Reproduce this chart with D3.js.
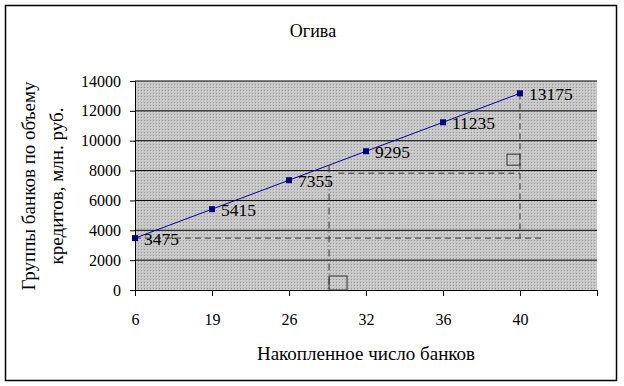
<!DOCTYPE html>
<html>
<head>
<meta charset="utf-8">
<script src="https://cdnjs.cloudflare.com/ajax/libs/d3/7.8.5/d3.min.js"></script>
<style>
  body { margin: 0; background: #fff; }
</style>
</head>
<body>
<svg id="chart" width="624" height="386"></svg>
<script>
/*** DATA ***/
var categories = ["6", "19", "26", "32", "36", "40", ""];
var values = [3475, 5415, 7355, 9295, 11235, 13175];
var y_ticks = [0, 2000, 4000, 6000, 8000, 10000, 12000, 14000];

// annotation (median construction), in data units: category index / value
var median_x = 2.52, median_y = 7826, median_top = 8340;
var base_end_x = 5.28;

var FONT = "Liberation Serif";

var svg = d3.select('#chart');

var margin = {top: 81, left: 135, right: 27, bottom: 96},
    width  = 624 - margin.left - margin.right,
    height = 386 - margin.top - margin.bottom;

// outer frame
svg.append('rect')
    .attr('x', 5.5).attr('y', 5.5)
    .attr('width', 611).attr('height', 375)
    .attr('fill', '#fff').attr('stroke', '#000').attr('stroke-width', 1.5);

// dotted gray fill
var defs = svg.append('defs');
var pat = defs.append('pattern')
    .attr('id', 'dots').attr('width', 3).attr('height', 3)
    .attr('patternUnits', 'userSpaceOnUse');
pat.append('rect').attr('width', 3).attr('height', 3).attr('fill', '#c6c6c6');
pat.append('rect').attr('width', 1).attr('height', 1).attr('fill', '#9a9a9a');
pat.append('rect').attr('x', 1).attr('y', 1).attr('width', 1).attr('height', 1).attr('fill', '#d8d8d8');

var g = svg.append('g').attr('transform', `translate(${margin.left},${margin.top})`);

var x = d3.scaleLinear().domain([0, categories.length - 1]).range([0, width]);
var y = d3.scaleLinear().domain([0, 14000]).range([height, 0]);

g.append('rect')
    .attr('width', width).attr('height', height)
    .attr('fill', 'url(#dots)');

// gridlines
g.selectAll('.grid')
    .data(y_ticks.slice(1))
    .enter().append('line')
    .attr('x1', 0).attr('x2', width)
    .attr('y1', d => y(d)).attr('y2', d => y(d))
    .attr('stroke', '#000').attr('stroke-width', 1);

// axes
g.append('g').attr('class', 'axis')
    .call(d3.axisLeft(y).tickValues(y_ticks).tickSize(5).tickPadding(9).tickFormat(d3.format('d')));

g.append('g').attr('class', 'axis')
    .attr('transform', `translate(0,${height})`)
    .call(d3.axisBottom(x).tickValues(d3.range(categories.length)).tickSize(6).tickPadding(18)
            .tickFormat(i => categories[i]));

g.selectAll('.axis').attr('font-family', FONT).attr('font-size', 16);
g.selectAll('.axis text').attr('fill', '#000');
g.selectAll('.axis path, .axis line').attr('stroke', '#000');

// annotation lines
function dline(x1, y1, x2, y2, da) {
    g.append('line')
        .attr('x1', x(x1)).attr('y1', y(y1))
        .attr('x2', x(x2)).attr('y2', y(y2))
        .attr('stroke', '#333').attr('stroke-width', 1)
        .attr('stroke-dasharray', da || '6,4');
}
dline(0, values[0], base_end_x, values[0]);
dline(5, values[5], 5, values[0]);
dline(median_x, median_top, median_x, 0, '7,3,1,3');
dline(median_x + 0.12, median_y, 5, median_y);

// small squares
g.append('rect')
    .attr('x', x(median_x)).attr('y', y(0) - 14)
    .attr('width', 18).attr('height', 14)
    .attr('fill', 'none').attr('stroke', '#333');
g.append('rect')
    .attr('x', x(5) - 13).attr('y', y(median_y) - 19)
    .attr('width', 13).attr('height', 11)
    .attr('fill', 'none').attr('stroke', '#333');

// line series
var line = d3.line().x((d, i) => x(i)).y(d => y(d));
g.append('path')
    .datum(values)
    .attr('d', line)
    .attr('fill', 'none').attr('stroke', '#0000a0').attr('stroke-width', 1);

g.selectAll('.marker')
    .data(values)
    .enter().append('rect')
    .attr('x', (d, i) => x(i) - 3).attr('y', d => y(d) - 3)
    .attr('width', 6).attr('height', 6)
    .attr('fill', '#000080');

g.selectAll('.lbl')
    .data(values)
    .enter().append('text')
    .attr('x', (d, i) => x(i) + 9).attr('y', d => y(d) + 7)
    .attr('font-family', FONT).attr('font-size', 17.5)
    .text(d => d);

// titles
svg.append('text')
    .attr('x', 313).attr('y', 37)
    .attr('text-anchor', 'middle')
    .attr('font-family', FONT).attr('font-size', 18)
    .text('Огива');

svg.append('text')
    .attr('x', 366).attr('y', 360)
    .attr('text-anchor', 'middle')
    .attr('font-family', FONT).attr('font-size', 19)
    .text('Накопленное число банков');

var yl = svg.append('text')
    .attr('transform', 'translate(35,186) rotate(-90)')
    .attr('text-anchor', 'middle')
    .attr('font-family', FONT).attr('font-size', 19);
yl.append('tspan').attr('x', 0).attr('dy', 0).text('Группы банков по объему');
yl.append('tspan').attr('x', 0).attr('dy', 28).text('кредитов, млн. руб.');
</script>
</body>
</html>
